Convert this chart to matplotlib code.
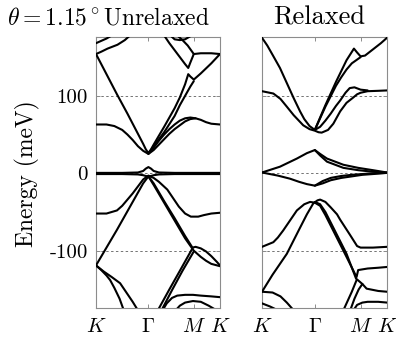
import numpy as np
import matplotlib
matplotlib.use('Agg')
import matplotlib.pyplot as plt

plt.rcParams['font.family'] = 'cmr10'
plt.rcParams['mathtext.fontset'] = 'cm'
plt.rcParams['axes.formatter.use_mathtext'] = True

# ---- axis data ----
k_ticks = [0, 1.0, 1.866, 2.366]
k_labels = [r'$K$', r'$\Gamma$', r'$M$', r'$K$']
E_ticks = [-100, 0, 100]
E_labels = ['-100', '0', '100']
E_range = [-174, 176]
titles = [r'$\theta = 1.15^\circ$Unrelaxed', 'Relaxed']
ylabel = 'Energy (meV)'

# ---- Unrelaxed bands (k along K-Gamma-M-K, energy in meV) ----
u_c1_k = [0, 0.2, 0.35, 0.5, 0.6, 0.7, 0.8, 0.9, 1.0, 1.1, 1.2, 1.3, 1.4, 1.5, 1.6, 1.7, 1.8, 1.9, 2.0, 2.1, 2.2, 2.366]
u_c1_E = [63, 63, 61, 56, 50, 43, 35, 29, 25, 33, 42, 50, 57, 63, 68, 71, 72, 71, 69, 66, 64, 63]
u_c2_k = [1.0, 1.1, 1.2, 1.3, 1.4, 1.5, 1.6, 1.7, 1.8, 1.9]
u_c2_E = [25, 30, 37, 44, 51, 57, 62, 67, 70, 71]
u_c3_k = [0, 0.2, 0.4, 0.6, 0.8, 0.9, 0.95, 1.0, 1.05, 1.1, 1.3, 1.5, 1.6, 1.7, 1.76, 1.8, 1.866, 2.0, 2.2, 2.366]
u_c3_E = [154, 128, 102, 77, 51, 38, 31, 26, 31, 37, 60, 84, 98, 115, 128, 125, 121, 129, 142, 154]
u_c4_k = [1.0, 1.05, 1.1, 1.3, 1.5, 1.6, 1.7, 1.8, 1.866]
u_c4_E = [26, 30, 35, 53, 74, 88, 100, 112, 119]
u_c5_k = [0, 0.1, 0.22, 0.41, 0.55, 0.65]
u_c5_E = [154, 157, 161, 166, 172, 178]
u_c6_k = [1.3, 1.4, 1.5, 1.6, 1.7, 1.76, 1.8, 1.866, 2.0, 2.2, 2.366]
u_c6_E = [178, 168, 159, 150, 141, 136, 143, 154, 155, 155, 154]
u_c7_k = [1.55, 1.65, 1.75, 1.866]
u_c7_E = [178, 172, 165, 154]
u_c8_k = [1.42, 1.5, 1.6, 1.7, 1.8]
u_c8_E = [178, 173, 172, 173, 177]
u_c9_k = [0, 0.1, 0.2, 0.3]
u_c9_E = [168, 171, 174, 178]
u_f_k = [0, 0.5, 0.8, 0.9, 0.95, 1.0, 1.05, 1.1, 1.2, 1.5, 2.0, 2.366]
u_f1_E = [0.5, 0.5, 1, 3, 6, 8, 6, 3, 1, 0.5, 0.5, 0.5]
u_f2_E = [-1, -1, -1.5, -2.5, -3.5, -4, -3.5, -2.5, -1.5, -1, -1, -1]
u_v1_k = [0, 0.2, 0.4, 0.5, 0.6, 0.7, 0.8, 0.9, 1.0, 1.1, 1.2, 1.36, 1.5, 1.58, 1.7, 1.81, 1.95, 2.06, 2.2, 2.366]
u_v1_E = [-52, -52, -48, -42, -34, -26, -17, -8, -3, -6, -11, -21, -35, -43, -52, -56, -56, -54, -52, -51]
u_v2_k = [0, 0.2, 0.4, 0.6, 0.8, 0.9, 1.0, 1.1, 1.3, 1.5, 1.7, 1.84, 1.9, 2.0, 2.1, 2.2, 2.3, 2.366]
u_v2_E = [-119, -96, -73, -49, -25, -13, -4, -13, -36, -58, -81, -96, -95, -97, -101, -107, -114, -119]
u_v3_k = [1.0, 1.1, 1.3, 1.5, 1.7, 1.866, 2.0, 2.1, 2.2, 2.366]
u_v3_E = [-4, -15, -38, -61, -84, -100, -108, -113, -117, -120]
u_v4_k = [1.18, 1.4, 1.6, 1.84]
u_v4_E = [-177, -150, -126, -97]
u_v5_k = [1.25, 1.45, 1.65, 1.866]
u_v5_E = [-177, -151, -126, -101]
u_v6_k = [1.27, 1.35, 1.45, 1.55, 1.7, 1.85, 2.0, 2.2, 2.366]
u_v6_E = [-177, -168, -161, -158, -157, -157, -158, -159, -160]
u_v7_k = [1.52, 1.6, 1.7, 1.85, 2.0, 2.15, 2.3]
u_v7_E = [-177, -171, -167, -165, -166, -171, -177]
u_v8_k = [0, 0.1, 0.2, 0.27, 0.35, 0.45, 0.53]
u_v8_E = [-119, -125, -132, -138, -148, -162, -177]
u_v9_k = [0, 0.15, 0.3, 0.46, 0.6, 0.7, 0.8]
u_v9_E = [-119, -127, -134, -142, -156, -166, -177]

# ---- Relaxed bands ----
r_c1_k = [0, 0.1, 0.2, 0.34, 0.5, 0.6, 0.72, 0.8, 0.9, 1.0, 1.2, 1.4, 1.6, 1.74, 1.8, 1.866, 1.95, 2.1, 2.25, 2.366]
r_c1_E = [175, 165, 153, 136, 112, 97, 80, 70, 61, 56, 88, 118, 146, 161, 156, 151, 152, 160, 168, 175]
r_c2_k = [1.0, 1.2, 1.4, 1.5, 1.6, 1.7, 1.866]
r_c2_E = [56, 86, 113, 124, 134, 142, 150]
r_c3_k = [0, 0.215, 0.35, 0.47, 0.6, 0.78, 0.9, 1.0, 1.07, 1.13, 1.25, 1.35, 1.48, 1.6, 1.73, 1.8, 1.866, 2.0, 2.2, 2.366]
r_c3_E = [106, 103, 96, 86, 75, 62, 57, 55, 53, 52.5, 56, 64, 80, 91, 98, 102, 104, 106, 106.5, 107]
r_c4_k = [1.0, 1.1, 1.2, 1.3, 1.4, 1.48, 1.58, 1.66, 1.75, 1.866, 2.0]
r_c4_E = [56, 60, 68, 77, 87, 94, 104, 110, 111, 108, 107]
r_f1_k = [0, 0.34, 0.66, 0.85, 1.0, 1.1, 1.23, 1.54, 1.82, 2.1, 2.366]
r_f1_E = [1, 8.5, 19, 26, 30, 25, 19, 11, 7, 4, 1]
r_f2_k = [1.0, 1.1, 1.23, 1.54, 1.82, 2.1, 2.366]
r_f2_E = [30, 23, 15, 7, 4, 2, 1]
r_f3_k = [0, 0.3, 0.53, 0.7, 0.85, 1.0, 1.15, 1.3, 1.5, 1.7, 1.9, 2.1, 2.366]
r_f3_E = [1, -3, -7, -11, -14, -16, -13, -9, -6, -4, -2, -1, 0.5]
r_f4_k = [1.0, 1.15, 1.3, 1.5, 1.7, 1.9, 2.1, 2.366]
r_f4_E = [-16, -10, -6, -3.5, -2, -1, 0, 0.5]
r_v1_k = [0, 0.215, 0.3, 0.4, 0.53, 0.66, 0.8, 0.91, 1.0, 1.1, 1.2, 1.4, 1.6, 1.76, 1.79, 1.82, 2.0, 2.2, 2.366]
r_v1_E = [-95, -89, -83, -74, -61, -48, -40, -37, -38, -42, -54, -81, -108, -130, -134, -125, -123, -122, -121]
r_v2_k = [1.0, 1.1, 1.2, 1.4, 1.6, 1.78, 1.9, 1.98, 2.2, 2.366]
r_v2_E = [-37, -40, -50, -77, -104, -136, -143, -149, -152, -153]
r_v3_k = [0, 0.2, 0.47, 0.7, 0.85, 0.97, 1.05, 1.1, 1.2, 1.3, 1.42, 1.48, 1.67, 1.8, 1.866, 2.1, 2.366]
r_v3_E = [-153, -131, -104, -73, -53, -39, -35, -34, -37, -44, -53, -60, -80, -94, -96, -96, -95]
r_v4_k = [1.54, 1.6, 1.7, 1.79]
r_v4_E = [-177, -168, -153, -138]
r_v5_k = [1.67, 1.75, 1.83, 1.9]
r_v5_E = [-177, -162, -150, -143]
r_v6_k = [1.73, 1.8, 1.9, 2.0, 2.2, 2.366]
r_v6_E = [-177, -170, -167, -166, -166, -167]
r_v7_k = [0, 0.2, 0.35, 0.47, 0.6]
r_v7_E = [-153, -154, -159, -167, -177]
r_v8_k = [0, 0.15, 0.3]
r_v8_E = [-168, -172, -177]

unrelaxed = [(u_c1_k, u_c1_E), (u_c2_k, u_c2_E), (u_c3_k, u_c3_E), (u_c4_k, u_c4_E),
             (u_c5_k, u_c5_E), (u_c6_k, u_c6_E), (u_c7_k, u_c7_E), (u_c8_k, u_c8_E),
             (u_c9_k, u_c9_E), (u_f_k, u_f1_E), (u_f_k, u_f2_E),
             (u_v1_k, u_v1_E), (u_v2_k, u_v2_E), (u_v3_k, u_v3_E), (u_v4_k, u_v4_E),
             (u_v5_k, u_v5_E), (u_v6_k, u_v6_E), (u_v7_k, u_v7_E), (u_v8_k, u_v8_E),
             (u_v9_k, u_v9_E)]
relaxed = [(r_c1_k, r_c1_E), (r_c2_k, r_c2_E), (r_c3_k, r_c3_E), (r_c4_k, r_c4_E),
           (r_f1_k, r_f1_E), (r_f2_k, r_f2_E), (r_f3_k, r_f3_E), (r_f4_k, r_f4_E),
           (r_v1_k, r_v1_E), (r_v2_k, r_v2_E), (r_v3_k, r_v3_E), (r_v4_k, r_v4_E),
           (r_v5_k, r_v5_E), (r_v6_k, r_v6_E), (r_v7_k, r_v7_E), (r_v8_k, r_v8_E)]

W, H = 396, 337
fig = plt.figure(figsize=(W / 100, H / 100), dpi=100)
ax1 = fig.add_axes([96 / W, (H - 308) / H, 124 / W, 271 / H])
ax2 = fig.add_axes([262 / W, (H - 308) / H, 125 / W, 271 / H])

for ax, bands in [(ax1, unrelaxed), (ax2, relaxed)]:
    for e in E_ticks:
        ax.axhline(e, color='0.45', lw=0.7, ls=(0, (2.5, 2.5)), zorder=1)
    for kk, ee in bands:
        ax.plot(kk, ee, color='black', lw=1.5, solid_joinstyle='round',
                solid_capstyle='round', zorder=3)
    ax.set_xlim(k_ticks[0], k_ticks[-1])
    ax.set_ylim(*E_range)
    ax.set_xticks(k_ticks)
    ax.set_xticklabels(k_labels, fontsize=15)
    ax.set_yticks(E_ticks)
    ax.tick_params(direction='in', length=3, width=0.7, color='0.55',
                   top=True, right=True)
    ax.tick_params(axis='x', pad=7)
    ax.tick_params(axis='y', pad=6)
    for s in ax.spines.values():
        s.set_color('0.55')
        s.set_linewidth(0.8)

ax1.set_yticklabels(E_labels, fontsize=15)
ax2.set_yticklabels([])

fig.text(7 / W, 1 - 18 / H, titles[0], fontsize=17, ha='left', va='center')
fig.text(319 / W, 1 - 18 / H, titles[1], fontsize=19, ha='center', va='center')
fig.text(27 / W, 1 - 174 / H, ylabel, fontsize=17, rotation=90, ha='center', va='center')

fig.savefig('out.png', dpi=100)
